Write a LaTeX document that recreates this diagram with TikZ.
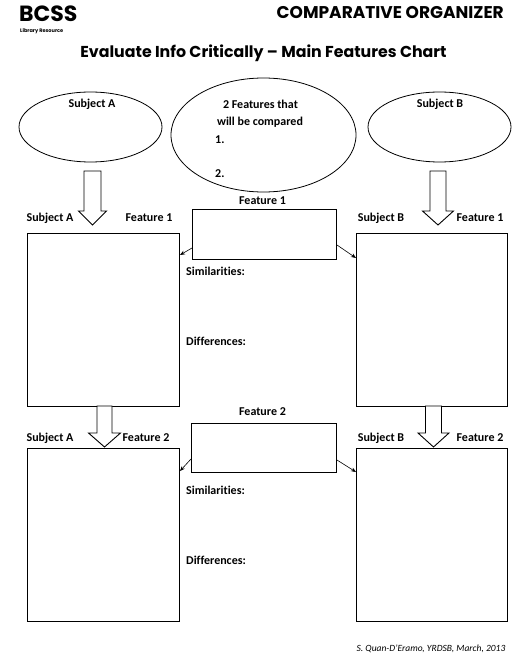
\documentclass[tikz,border=0pt]{standalone}
\usepackage{fontspec}
\setmainfont[Ligatures=NoCommon]{Carlito}
\newfontfamily\headfont{Poppins}
\usetikzlibrary{shapes.geometric}
\usetikzlibrary{arrows.meta}

\tikzset{
  field/.style={draw, line width=1pt, rectangle, anchor=north west,
    minimum width=152pt, minimum height=173pt, inner sep=0pt},
  featbox/.style={draw, line width=1pt, rectangle, anchor=north west,
    minimum width=144pt, minimum height=50pt, inner sep=0pt},
  bubble/.style={draw, ellipse, line width=0.8pt, inner sep=0pt},
  lbl/.style={font=\bfseries\fontsize{12}{14}\selectfont, inner sep=0pt},
  pointer/.style={-{Stealth[length=5pt,width=4pt]}, line width=0.6pt},
  blockarr/.style={draw, line width=0.9pt, fill=white, line join=miter},
}

\begin{document}
\begin{tikzpicture}[x=1pt, y=-1pt]
\useasboundingbox (0,0) rectangle (531,660);

% heading
\node[anchor=west, inner sep=0pt, font=\headfont\bfseries\fontsize{22}{24}\selectfont] (bcss) at (19,14) {BCSS};
\node[anchor=west, inner sep=0pt, font=\headfont\bfseries\fontsize{5}{6}\selectfont] (libres) at (20,31) {Library Resource};
\node[anchor=east, inner sep=0pt, font=\headfont\bfseries\fontsize{17}{20}\selectfont] (organizer) at (504,13) {COMPARATIVE ORGANIZER};
\node[inner sep=0pt, font=\headfont\bfseries\fontsize{15.8}{20}\selectfont] (title) at (263.5,53) {Evaluate Info Critically – Main Features Chart};

% ellipses
\node[bubble, minimum width=143pt, minimum height=70pt] (subjA) at (90.5,127) {};
\node[bubble, minimum width=185pt, minimum height=114pt] (features) at (263.5,135) {};
\node[bubble, minimum width=143pt, minimum height=70pt] (subjB) at (439.5,127) {};
\node[lbl] (subjAtxt) at (92,104) {Subject A};
\node[lbl] (subjBtxt) at (440,104) {Subject B};
\node[lbl] (feattxt) at (260.5,104) {2 Features that};
\node[lbl] (comptxt) at (260,122) {will be compared};
\node[lbl, anchor=west] (one) at (215,140) {1.};
\node[lbl, anchor=west] (two) at (215,174) {2.};

% boxes
\node[field] (boxA1) at (27,233) {};
\node[field, minimum width=151pt] (boxB1) at (356,233) {};
\node[field] (boxA2) at (27,448) {};
\node[field, minimum width=151pt] (boxB2) at (356,448) {};
\node[featbox] (feat1) at (192,209) {};
\node[featbox, minimum width=145pt, minimum height=49pt] (feat2) at (191,423) {};

% labels
\node[lbl] (featAtxt) at (262.5,201) {Feature 1};
\node[lbl] (featBtxt) at (262.5,412) {Feature 2};
\node[lbl] (a1) at (50,218) {Subject A};
\node[lbl] (a1f) at (149,218) {Feature 1};
\node[lbl] (b1) at (381,218) {Subject B};
\node[lbl] (b1f) at (480,218) {Feature 1};
\node[lbl] (a2) at (50,438) {Subject A};
\node[lbl] (a2f) at (146,438) {Feature 2};
\node[lbl] (b2) at (381,438) {Subject B};
\node[lbl] (b2f) at (480,438) {Feature 2};
\node[lbl, anchor=west] (sim1) at (186,271) {Similarities:};
\node[lbl, anchor=west] (dif1) at (186,341) {Differences:};
\node[lbl, anchor=west] (sim2) at (186,490) {Similarities:};
\node[lbl, anchor=west] (dif2) at (186,560) {Differences:};

% block arrows
\foreach \x/\ya/\yb/\yc/\s/\h in {92.5/171/211/225/8.5/14, 438/171/211/225/8/15.5,
    104.5/406/433/447/7.5/16, 433.5/406/433/447/8/15.5}
  \draw[blockarr] (\x-\s,\ya) -- (\x+\s,\ya) -- (\x+\s,\yb) -- (\x+\h,\yb)
    -- (\x,\yc) -- (\x-\h,\yb) -- (\x-\s,\yb) -- cycle;

% pointers
\draw[pointer] ([yshift=-39pt]feat1.north west) -- ([yshift=-22pt]boxA1.north east);
\draw[pointer] ([yshift=-36pt]feat1.north east) -- ([yshift=-25pt]boxB1.north west);
\draw[pointer] ([yshift=-36pt]feat2.north west) -- ([yshift=-23pt]boxA2.north east);
\draw[pointer] ([yshift=-37pt]feat2.north east) -- ([yshift=-24pt]boxB2.north west);

% footer
\node[inner sep=0pt, font=\itshape\fontsize{9.5}{11}\selectfont] (credit) at (431,649) {S. Quan-D'Eramo, YRDSB, March, 2013};
\end{tikzpicture}
\end{document}
